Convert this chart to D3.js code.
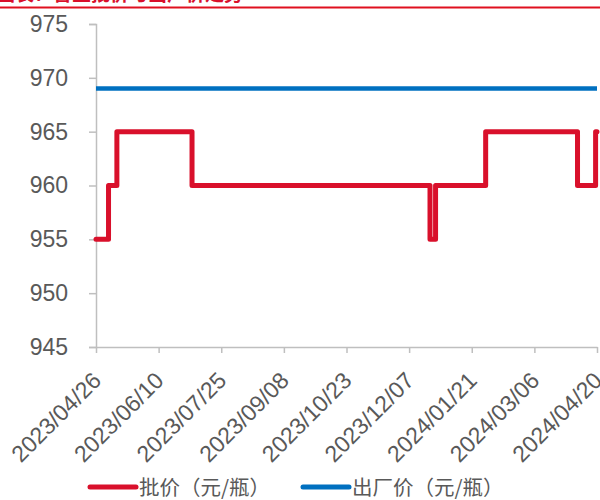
<!DOCTYPE html>
<html>
<head>
<meta charset="utf-8">
<script src="https://cdn.jsdelivr.net/npm/d3@7"></script>
<style>
  html, body { margin: 0; padding: 0; background: #fff; }
  svg { display: block; }
</style>
</head>
<body>
<svg id="chart" width="600" height="500"></svg>
<script>
// Wholesale price: dates where the price changes, and the price from that date on
const wholesaleDates  = ["2023/04/26", "2023/05/05", "2023/05/11", "2023/07/04", "2023/12/22",
                         "2023/12/26", "2024/01/31", "2024/04/06", "2024/04/19", "2024/04/20"];
const wholesaleValues = [955, 960, 965, 960, 955, 960, 965, 960, 965, 965];

// Ex-factory price
const factoryDates  = ["2023/04/26", "2024/04/20"];
const factoryValues = [969, 969];

// Axis labels
const xTickLabels = ["2023/04/26", "2023/06/10", "2023/07/25", "2023/09/08", "2023/10/23",
                     "2023/12/07", "2024/01/21", "2024/03/06", "2024/04/20"];
const yTickValues = [945, 950, 955, 960, 965, 970, 975];

const seriesNames = ["批价（元/瓶）", "出厂价（元/瓶）"];
const titleText = "图表：普五批价与出厂价走势";

const parse = d3.timeParse("%Y/%m/%d");
const svg = d3.select("#chart");

const margin = { left: 96, right: 3, top: 24, bottom: 153 };
const W = 600, H = 500;

const x = d3.scaleTime()
  .domain([parse(xTickLabels[0]), parse(xTickLabels[xTickLabels.length - 1])])
  .range([margin.left, W - margin.right]);
const y = d3.scaleLinear()
  .domain([945, 975])
  .range([H - margin.bottom, margin.top]);

// Title strip at the top
svg.append("text")
  .attr("x", -4).attr("y", 1)
  .attr("font-family", "Noto Sans CJK SC")
  .attr("font-weight", "bold")
  .attr("font-size", 19)
  .attr("fill", "#D9102B")
  .text(titleText);
svg.append("line")
  .attr("x1", 0).attr("x2", W)
  .attr("y1", 7.5).attr("y2", 7.5)
  .attr("stroke", "#E0101F").attr("stroke-width", 1.8);

const axisColor = "#BFBFBF";
const labelColor = "#595959";

// Y axis
const yAxis = svg.append("g")
  .attr("transform", `translate(${margin.left},0)`)
  .call(d3.axisLeft(y).tickValues(yTickValues).tickSize(7).tickPadding(21));
yAxis.select(".domain").attr("stroke", axisColor).attr("stroke-width", 1.5);
yAxis.selectAll(".tick line").attr("stroke", axisColor).attr("stroke-width", 1.5);
yAxis.selectAll(".tick text")
  .attr("font-family", "Liberation Sans, Arial, sans-serif")
  .attr("font-size", 23)
  .attr("fill", labelColor);

// X axis
const xAxis = svg.append("g")
  .attr("transform", `translate(0,${y(945)})`)
  .call(d3.axisBottom(x)
    .tickValues(xTickLabels.map(parse))
    .tickFormat(d3.timeFormat("%Y/%m/%d"))
    .tickSize(6)
    .tickSizeOuter(0));
xAxis.select(".domain").attr("stroke", axisColor).attr("stroke-width", 1.5);
xAxis.selectAll(".tick line").attr("stroke", axisColor).attr("stroke-width", 1.5);
xAxis.selectAll(".tick text")
  .attr("font-family", "Liberation Sans, Arial, sans-serif")
  .attr("font-size", 23)
  .attr("fill", labelColor)
  .attr("text-anchor", "end")
  .attr("x", 0).attr("y", 0)
  .attr("dy", null)
  .attr("transform", "translate(6,35) rotate(-45)");

// Series lines
const line = d3.line()
  .x(d => x(d.date))
  .y(d => y(d.value))
  .curve(d3.curveStepAfter);

const wholesale = wholesaleDates.map((d, i) => ({ date: parse(d), value: wholesaleValues[i] }));
const factory = factoryDates.map((d, i) => ({ date: parse(d), value: factoryValues[i] }));

const colors = ["#D9102B", "#0070C0"];

svg.append("path")
  .datum(factory)
  .attr("fill", "none")
  .attr("stroke", colors[1])
  .attr("stroke-width", 4.5)
  .attr("d", line);

svg.append("path")
  .datum(wholesale)
  .attr("fill", "none")
  .attr("stroke", colors[0])
  .attr("stroke-width", 5)
  .attr("stroke-linejoin", "round")
  .attr("stroke-linecap", "round")
  .attr("d", line);

// Legend
const legendItems = [
  { x: 90, name: seriesNames[0], color: colors[0] },
  { x: 303, name: seriesNames[1], color: colors[1] }
];
const legend = svg.append("g");
legendItems.forEach(item => {
  legend.append("line")
    .attr("x1", item.x).attr("x2", item.x + 46)
    .attr("y1", 487).attr("y2", 487)
    .attr("stroke", item.color)
    .attr("stroke-width", 5)
    .attr("stroke-linecap", "round");
  legend.append("text")
    .attr("x", item.x + 49).attr("y", 495)
    .attr("font-family", "Noto Sans CJK SC")
    .attr("font-size", 20.5)
    .attr("fill", labelColor)
    .text(item.name);
});
</script>
</body>
</html>
